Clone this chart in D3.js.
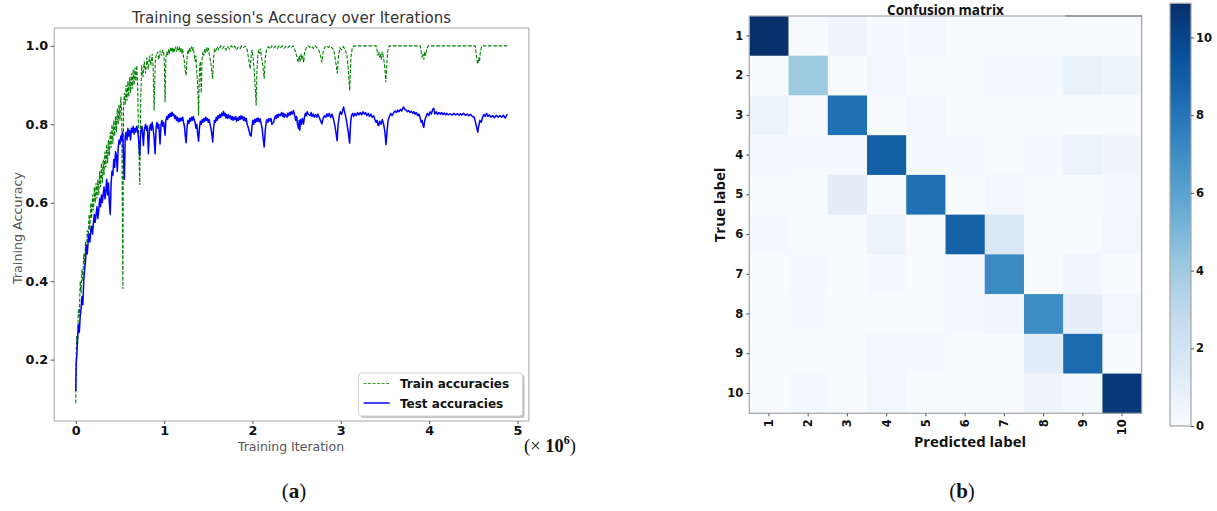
<!DOCTYPE html>
<html>
<head>
<meta charset="utf-8">
<script src="https://cdn.jsdelivr.net/npm/d3@7"></script>
<style>
  body { margin: 0; background: #fff; }
  svg { display: block; }
</style>
</head>
<body>
<svg id="fig" width="1217" height="511"></svg>
<script>
// ---- data: accuracy curves (iteration in millions, accuracy) ----
const trainPoints = [
  [0.000,0.089],[0.005,0.21],[0.010,0.26],[0.020,0.24],[0.030,0.33],[0.040,0.31],[0.050,0.40],[0.060,0.37],
  [0.070,0.43],[0.080,0.40],[0.090,0.47],[0.100,0.44],[0.110,0.50],[0.120,0.47],[0.130,0.53],[0.140,0.50],
  [0.150,0.57],[0.160,0.53],[0.170,0.60],[0.180,0.56],[0.190,0.62],[0.200,0.58],[0.210,0.64],[0.220,0.60],
  [0.230,0.65],[0.240,0.61],[0.250,0.66],[0.260,0.62],[0.270,0.68],[0.280,0.64],[0.290,0.70],[0.300,0.65],
  [0.310,0.71],[0.320,0.67],[0.330,0.73],[0.340,0.69],[0.350,0.75],[0.360,0.70],[0.370,0.76],[0.380,0.72],
  [0.390,0.78],[0.400,0.74],[0.410,0.80],[0.420,0.75],[0.430,0.81],[0.440,0.77],[0.450,0.82],[0.460,0.78],
  [0.470,0.84],[0.480,0.80],[0.490,0.85],[0.500,0.81],[0.510,0.87],[0.520,0.83],[0.527,0.60],[0.533,0.38],
  [0.540,0.84],[0.550,0.88],[0.560,0.85],[0.570,0.90],[0.580,0.86],[0.590,0.91],[0.600,0.87],[0.610,0.92],
  [0.620,0.88],[0.630,0.93],[0.640,0.89],[0.650,0.94],[0.660,0.90],[0.670,0.945],[0.680,0.91],[0.690,0.95],
  [0.700,0.90],[0.712,0.76],[0.724,0.645],[0.735,0.86],[0.745,0.95],[0.760,0.92],[0.775,0.96],[0.790,0.93],
  [0.805,0.97],[0.820,0.94],[0.835,0.975],[0.850,0.95],[0.865,0.98],[0.875,0.95],[0.887,0.835],[0.900,0.96],
  [0.910,0.975],[0.925,0.985],[0.940,0.965],[0.955,0.988],[0.970,0.975],[0.985,0.99],[1.000,0.975],
  [1.011,0.856],[1.02,0.97],[1.03,0.985],[1.04,0.975],[1.05,0.992],[1.06,0.98],[1.07,0.995],[1.08,0.985],
  [1.09,0.997],[1.10,0.982],[1.11,0.995],[1.12,0.988],[1.13,0.998],[1.14,0.985],[1.15,0.996],[1.16,0.99],
  [1.17,0.998],[1.18,0.984],[1.19,0.995],[1.20,0.98],[1.21,0.992],[1.22,0.97],[1.23,0.96],[1.24,0.935],
  [1.249,0.925],[1.26,0.97],[1.27,0.99],[1.28,0.98],[1.29,0.995],[1.30,0.985],[1.31,0.998],[1.32,0.99],
  [1.33,0.996],[1.34,0.98],[1.35,0.96],[1.36,0.975],[1.37,0.93],[1.38,0.90],[1.39,0.822],[1.40,0.94],
  [1.41,0.96],[1.42,0.88],[1.43,0.965],[1.44,0.985],[1.45,0.975],[1.46,0.992],[1.47,0.985],[1.48,0.996],
  [1.49,0.988],[1.50,0.995],[1.51,0.98],[1.52,0.97],[1.53,0.955],[1.54,0.935],[1.55,0.916],[1.56,0.97],
  [1.57,0.99],[1.58,0.985],[1.60,0.998],[1.62,0.99],[1.64,1.0],[1.66,0.993],[1.68,0.999],[1.70,0.99],
  [1.72,0.998],[1.74,0.992],[1.76,1.0],[1.78,0.995],[1.80,0.999],[1.82,0.99],[1.84,0.997],[1.86,0.993],
  [1.88,1.0],[1.90,0.996],[1.92,0.999],[1.94,0.99],[1.955,0.97],[1.965,0.955],[1.974,0.941],[1.985,0.975],
  [1.995,0.99],[2.005,0.975],[2.015,0.95],[2.025,0.92],[2.035,0.88],[2.042,0.848],[2.05,0.93],[2.06,0.975],
  [2.07,0.99],[2.08,0.98],[2.09,0.993],[2.10,0.975],[2.11,0.96],[2.12,0.945],[2.133,0.916],[2.145,0.97],
  [2.16,0.99],[2.18,0.998],[2.20,0.992],[2.22,1.0],[2.24,0.995],[2.26,0.999],[2.28,0.993],[2.30,1.0],
  [2.32,0.996],[2.34,1.0],[2.36,0.994],[2.38,0.999],[2.40,0.995],[2.42,1.0],[2.44,0.996],[2.46,1.0],
  [2.48,0.99],[2.50,0.975],[2.51,0.965],[2.52,0.958],[2.53,0.975],[2.54,0.96],[2.55,0.98],[2.56,0.965],
  [2.57,0.975],[2.58,0.958],[2.59,0.985],[2.61,0.995],[2.63,1.0],[2.65,0.996],[2.67,0.999],[2.69,0.993],
  [2.71,1.0],[2.73,0.995],[2.75,0.99],[2.77,0.975],[2.786,0.958],[2.80,0.985],[2.82,0.997],[2.84,1.0],
  [2.86,0.996],[2.88,1.0],[2.90,0.995],[2.92,0.99],[2.935,0.97],[2.948,0.95],[2.96,0.93],[2.975,0.975],
  [2.99,0.995],[3.01,0.99],[3.03,0.998],[3.05,0.99],[3.07,0.975],[3.085,0.94],[3.10,0.886],[3.115,0.97],
  [3.13,0.995],[3.15,1.0],[3.40,1.0],[3.41,0.99],[3.42,0.975],[3.43,0.985],[3.44,0.97],[3.45,0.98],
  [3.46,0.965],[3.47,0.985],[3.48,0.975],[3.49,0.96],[3.50,0.94],[3.51,0.907],[3.52,0.95],[3.53,0.985],
  [3.54,0.995],[3.55,1.0],[3.90,1.0],[3.91,0.985],[3.92,0.97],[3.93,0.98],[3.94,0.965],[3.95,0.985],
  [3.96,0.975],[3.97,0.99],[3.99,1.0],[4.52,1.0],[4.53,0.985],[4.54,0.965],[4.551,0.953],[4.56,0.97],
  [4.57,0.96],[4.58,0.985],[4.59,0.995],[4.60,1.0],[4.885,1.0]
];

const testPoints = [
  [0.000,0.12],[0.005,0.19],[0.012,0.21],[0.020,0.25],[0.030,0.29],[0.040,0.27],[0.050,0.31],[0.060,0.33],
  [0.070,0.36],[0.080,0.34],[0.090,0.40],[0.100,0.43],[0.110,0.45],[0.120,0.49],[0.130,0.47],[0.140,0.50],
  [0.150,0.52],[0.160,0.50],[0.170,0.53],[0.180,0.54],[0.190,0.52],[0.200,0.55],[0.210,0.57],[0.220,0.55],
  [0.230,0.57],[0.240,0.59],[0.250,0.56],[0.260,0.58],[0.270,0.61],[0.280,0.59],[0.290,0.62],[0.300,0.60],
  [0.310,0.62],[0.320,0.64],[0.330,0.61],[0.340,0.63],[0.350,0.66],[0.360,0.62],[0.370,0.65],[0.380,0.60],
  [0.390,0.57],[0.400,0.65],[0.410,0.68],[0.420,0.67],[0.430,0.71],[0.440,0.69],[0.450,0.73],[0.460,0.72],
  [0.470,0.68],[0.480,0.74],[0.490,0.76],[0.500,0.75],[0.510,0.77],[0.520,0.76],[0.530,0.78],[0.540,0.72],
  [0.550,0.66],[0.560,0.77],[0.570,0.78],[0.580,0.76],[0.590,0.79],[0.600,0.77],[0.610,0.785],[0.620,0.76],
  [0.630,0.79],[0.640,0.78],[0.650,0.795],[0.660,0.775],[0.670,0.79],[0.680,0.78],[0.690,0.795],[0.700,0.785],
  [0.712,0.76],[0.724,0.72],[0.735,0.78],[0.75,0.795],[0.766,0.746],[0.775,0.785],[0.79,0.80],[0.80,0.785],
  [0.81,0.795],[0.822,0.725],[0.835,0.79],[0.845,0.80],[0.855,0.785],[0.865,0.805],[0.875,0.79],[0.885,0.77],
  [0.898,0.725],[0.91,0.795],[0.92,0.805],[0.93,0.79],[0.94,0.80],[0.954,0.75],[0.965,0.80],[0.975,0.81],
  [0.985,0.795],[0.995,0.805],[1.011,0.772],[1.02,0.81],[1.03,0.82],[1.04,0.812],[1.05,0.825],[1.06,0.818],
  [1.07,0.828],[1.08,0.82],[1.09,0.831],[1.10,0.822],[1.11,0.826],[1.12,0.815],[1.13,0.822],[1.14,0.81],
  [1.15,0.818],[1.16,0.806],[1.17,0.815],[1.18,0.808],[1.19,0.816],[1.20,0.81],[1.21,0.818],[1.22,0.805],
  [1.23,0.795],[1.24,0.77],[1.249,0.753],[1.26,0.795],[1.27,0.81],[1.28,0.802],[1.29,0.815],[1.30,0.808],
  [1.31,0.818],[1.32,0.81],[1.33,0.82],[1.34,0.812],[1.35,0.805],[1.36,0.79],[1.37,0.80],[1.38,0.775],
  [1.39,0.757],[1.40,0.79],[1.41,0.808],[1.42,0.80],[1.43,0.812],[1.44,0.805],[1.45,0.815],[1.46,0.808],
  [1.47,0.818],[1.48,0.81],[1.49,0.815],[1.50,0.805],[1.51,0.812],[1.52,0.80],[1.53,0.79],[1.54,0.775],
  [1.55,0.755],[1.56,0.79],[1.57,0.81],[1.58,0.805],[1.59,0.818],[1.60,0.81],[1.61,0.822],[1.62,0.815],
  [1.63,0.825],[1.64,0.818],[1.65,0.828],[1.66,0.822],[1.672,0.833],[1.68,0.822],[1.69,0.828],[1.70,0.816],
  [1.71,0.825],[1.72,0.815],[1.73,0.824],[1.74,0.816],[1.75,0.822],[1.76,0.812],[1.77,0.82],[1.78,0.81],
  [1.79,0.818],[1.80,0.812],[1.81,0.82],[1.82,0.808],[1.83,0.816],[1.84,0.81],[1.85,0.82],[1.86,0.812],
  [1.87,0.822],[1.88,0.814],[1.89,0.82],[1.90,0.81],[1.91,0.818],[1.92,0.808],[1.93,0.815],[1.94,0.80],
  [1.955,0.79],[1.965,0.78],[1.974,0.772],[1.985,0.77],[1.995,0.795],[2.005,0.81],[2.015,0.80],[2.025,0.812],
  [2.035,0.805],[2.045,0.815],[2.055,0.808],[2.065,0.816],[2.075,0.806],[2.087,0.814],[2.10,0.80],[2.11,0.79],
  [2.12,0.765],[2.133,0.742],[2.145,0.785],[2.155,0.805],[2.165,0.812],[2.175,0.805],[2.185,0.815],[2.20,0.808],
  [2.21,0.815],[2.22,0.80],[2.239,0.805],[2.25,0.815],[2.26,0.822],[2.27,0.815],[2.28,0.825],[2.29,0.818],
  [2.30,0.826],[2.314,0.822],[2.33,0.83],[2.34,0.82],[2.35,0.828],[2.36,0.818],[2.37,0.826],[2.39,0.818],
  [2.40,0.828],[2.41,0.822],[2.42,0.83],[2.43,0.824],[2.44,0.832],[2.45,0.826],[2.465,0.835],[2.475,0.825],
  [2.49,0.81],[2.50,0.82],[2.51,0.80],[2.522,0.789],[2.53,0.81],[2.536,0.785],[2.545,0.812],[2.555,0.80],
  [2.565,0.815],[2.578,0.801],[2.59,0.82],[2.60,0.828],[2.61,0.822],[2.62,0.832],[2.635,0.825],[2.654,0.822],
  [2.665,0.83],[2.675,0.82],[2.69,0.826],[2.70,0.818],[2.715,0.825],[2.729,0.818],[2.74,0.826],[2.755,0.818],
  [2.77,0.81],[2.786,0.801],[2.80,0.815],[2.815,0.822],[2.83,0.818],[2.843,0.827],[2.855,0.82],[2.87,0.828],
  [2.885,0.818],[2.90,0.826],[2.915,0.815],[2.93,0.80],[2.945,0.78],[2.958,0.758],[2.97,0.80],[2.985,0.825],
  [2.995,0.832],[3.01,0.825],[3.02,0.835],[3.032,0.844],[3.045,0.83],[3.055,0.82],[3.07,0.801],[3.085,0.78],
  [3.10,0.752],[3.11,0.80],[3.12,0.822],[3.135,0.828],[3.145,0.82],[3.16,0.828],[3.175,0.822],[3.19,0.83],
  [3.205,0.824],[3.22,0.83],[3.235,0.824],[3.25,0.832],[3.265,0.826],[3.28,0.83],[3.295,0.822],[3.31,0.828],
  [3.325,0.82],[3.34,0.826],[3.355,0.818],[3.372,0.822],[3.385,0.812],[3.40,0.805],[3.41,0.81],[3.42,0.798],
  [3.429,0.797],[3.44,0.808],[3.455,0.80],[3.47,0.812],[3.485,0.80],[3.50,0.78],[3.511,0.748],[3.523,0.78],
  [3.535,0.81],[3.55,0.82],[3.565,0.828],[3.58,0.822],[3.599,0.83],[3.615,0.834],[3.63,0.83],[3.645,0.836],
  [3.66,0.832],[3.675,0.838],[3.69,0.834],[3.70,0.84],[3.712,0.844],[3.725,0.838],[3.74,0.836],[3.755,0.832],
  [3.77,0.835],[3.785,0.83],[3.80,0.833],[3.815,0.828],[3.826,0.832],[3.84,0.826],[3.855,0.83],[3.87,0.822],
  [3.885,0.826],[3.90,0.815],[3.91,0.805],[3.92,0.81],[3.931,0.797],[3.94,0.792],[3.95,0.81],[3.965,0.82],
  [3.98,0.828],[3.995,0.822],[4.01,0.832],[4.025,0.826],[4.04,0.838],[4.052,0.841],[4.065,0.826],[4.08,0.832],
  [4.095,0.825],[4.11,0.83],[4.127,0.826],[4.14,0.83],[4.155,0.825],[4.17,0.829],[4.185,0.824],[4.20,0.828],
  [4.215,0.824],[4.24,0.827],[4.26,0.823],[4.28,0.828],[4.30,0.824],[4.32,0.827],[4.34,0.823],[4.354,0.827],
  [4.37,0.824],[4.39,0.828],[4.41,0.823],[4.43,0.826],[4.45,0.822],[4.47,0.825],[4.49,0.82],[4.51,0.818],
  [4.525,0.805],[4.54,0.79],[4.551,0.78],[4.56,0.795],[4.575,0.81],[4.59,0.805],[4.605,0.818],[4.62,0.825],
  [4.635,0.82],[4.65,0.828],[4.665,0.82],[4.68,0.824],[4.70,0.818],[4.72,0.822],[4.74,0.817],[4.76,0.823],
  [4.78,0.818],[4.80,0.822],[4.82,0.818],[4.84,0.823],[4.86,0.816],[4.885,0.826]
];

const accTicks = [0.2, 0.4, 0.6, 0.8, 1.0];
const iterTicks = [0, 1, 2, 3, 4, 5];
const seriesNames = ["Train accuracies", "Test accuracies"];

// ---- data: confusion matrix ----
const classLabels = ["1", "2", "3", "4", "5", "6", "7", "8", "9", "10"];
const confusion = [
  [10.88, 0, 0.5, 0.1, 0.25, 0, 0, 0, 0, 0],
  [0, 4.1, 0, 0.3, 0, 0, 0.15, 0.15, 0.8, 0.6],
  [0.6, 0, 8.2, 0, 0.3, 0, 0, 0, 0, 0],
  [0.15, 0.1, 0.15, 8.9, 0.15, 0.15, 0, 0.15, 0.7, 0.5],
  [0, 0, 1.1, 0, 8.2, 0, 0.3, 0, 0, 0.15],
  [0.2, 0, 0, 0.65, 0, 8.8, 1.6, 0, 0, 0.3],
  [0, 0.15, 0, 0.2, 0, 0.15, 7.1, 0, 0.4, 0],
  [0, 0.1, 0, 0, 0, 0.15, 0.45, 7.0, 1.0, 0.3],
  [0, 0, 0, 0.25, 0.15, 0, 0, 1.2, 8.5, 0],
  [0, 0.15, 0, 0.3, 0, 0, 0, 0.5, 0.15, 10.5]
];
const colorbarTicks = [0, 2, 4, 6, 8, 10];
const colorMax = 10.88;

const svg = d3.select("#fig");
svg.append("rect").attr("width", 1217).attr("height", 511).attr("fill", "#fff");

const frameColor = "#a6a6a6";

// ================= (a) accuracy chart =================
(() => {
  const left = 54.2, right = 528.9, top = 28, bottom = 421;
  const allX = trainPoints.concat(testPoints).map(d => d[0]);
  const allY = trainPoints.concat(testPoints).map(d => d[1]);
  const [x0, x1] = d3.extent(allX), [y0, y1] = d3.extent(allY);
  const px = (x1 - x0) * 0.05, py = (y1 - y0) * 0.05;

  const x = d3.scaleLinear().domain([x0 - px, x1 + px]).range([left, right]);
  const y = d3.scaleLinear().domain([y0 - py, y1 + py]).range([bottom, top]);

  const g = svg.append("g");
  const line = d3.line().x(d => x(d[0])).y(d => y(d[1]));

  g.append("path")
    .datum(trainPoints)
    .attr("d", line)
    .attr("fill", "none")
    .attr("stroke", "#008000")
    .attr("stroke-width", 1.1)
    .attr("stroke-dasharray", "3.7,1.6");

  g.append("path")
    .datum(testPoints)
    .attr("d", line)
    .attr("fill", "none")
    .attr("stroke", "#0000ff")
    .attr("stroke-width", 1.5)
    .attr("stroke-linejoin", "round");

  g.append("rect")
    .attr("x", left).attr("y", top)
    .attr("width", right - left).attr("height", bottom - top)
    .attr("fill", "none").attr("stroke", frameColor);

  const xAxis = g.append("g")
    .attr("transform", `translate(0,${bottom})`)
    .call(d3.axisBottom(x).tickValues(iterTicks).tickFormat(d3.format("d")).tickSize(3).tickPadding(2));
  const yAxis = g.append("g")
    .attr("transform", `translate(${left},0)`)
    .call(d3.axisLeft(y).tickValues(accTicks).tickFormat(d3.format(".1f")).tickSize(3.5).tickPadding(2.5));
  [xAxis, yAxis].forEach(a => {
    a.select(".domain").remove();
    a.selectAll(".tick line").attr("stroke", "#555");
    a.selectAll(".tick text")
      .attr("font-family", "DejaVu Sans")
      .attr("font-weight", "bold")
      .attr("font-size", 12.8)
      .attr("fill", "#111");
  });

  g.append("text")
    .attr("x", (left + right) / 2).attr("y", 22.5)
    .attr("text-anchor", "middle")
    .attr("font-family", "DejaVu Sans").attr("font-size", 15).attr("fill", "#333")
    .text("Training session's Accuracy over Iterations");

  g.append("text")
    .attr("x", 291).attr("y", 451)
    .attr("text-anchor", "middle")
    .attr("font-family", "DejaVu Sans").attr("font-size", 12.5).attr("fill", "#555")
    .text("Training Iteration");

  g.append("text")
    .attr("transform", "translate(22,228) rotate(-90)")
    .attr("text-anchor", "middle")
    .attr("font-family", "DejaVu Sans").attr("font-size", 12.7).attr("fill", "#555")
    .text("Training Accuracy");

  // multiplier (×10^6)
  const mult = g.append("text")
    .attr("x", 524).attr("y", 452)
    .attr("font-family", "Liberation Serif").attr("font-size", 18.5).attr("fill", "#111");
  mult.append("tspan").text("(× ");
  mult.append("tspan").attr("font-weight", "bold").text("10");
  mult.append("tspan").attr("font-size", 12).attr("dy", -8).attr("font-weight", "bold").text("6");
  mult.append("tspan").attr("dy", 8).text(")");

  // legend
  const lg = g.append("g").attr("transform", "translate(358.6,373)");
  lg.append("rect").attr("x", 2).attr("y", 2).attr("width", 164).attr("height", 43)
    .attr("rx", 3).attr("fill", "#888").attr("opacity", 0.5);
  lg.append("rect").attr("width", 164).attr("height", 43).attr("rx", 3)
    .attr("fill", "#fff").attr("stroke", "#d0d0d0");
  const styles = [
    { stroke: "#2ca02c", dash: "3,1.5", width: 1.2 },
    { stroke: "#4040ff", dash: null, width: 2 }
  ];
  seriesNames.forEach((name, i) => {
    const yy = 10.5 + i * 19.5;
    lg.append("line").attr("x1", 5).attr("x2", 31).attr("y1", yy).attr("y2", yy)
      .attr("stroke", styles[i].stroke).attr("stroke-width", styles[i].width)
      .attr("stroke-dasharray", styles[i].dash);
    lg.append("text").attr("x", 41.4).attr("y", yy + 4.5)
      .attr("font-family", "DejaVu Sans").attr("font-weight", "bold")
      .attr("font-size", 12).attr("fill", "#111").text(name);
  });

  svg.append("text")
    .attr("x", 294).attr("y", 498).attr("text-anchor", "middle")
    .attr("font-family", "Liberation Serif").attr("font-size", 21).attr("fill", "#111")
    .html('(<tspan font-weight="bold">a</tspan>)');
})();

// ================= (b) confusion matrix =================
(() => {
  const left = 749.3, right = 1141.7, top = 16, bottom = 413.3;
  const x = d3.scaleBand().domain(classLabels).range([left, right]);
  const y = d3.scaleBand().domain(classLabels).range([top, bottom]);

  const blues = d3.schemeBlues[9];
  const color = d3.scaleLinear()
    .domain(d3.range(blues.length).map(i => i / (blues.length - 1) * colorMax))
    .range(blues)
    .clamp(true);

  const cells = [];
  confusion.forEach((row, r) => row.forEach((v, c) => cells.push({ r, c, v })));

  const g = svg.append("g");
  g.selectAll("rect.cell")
    .data(cells)
    .join("rect")
    .attr("class", "cell")
    .attr("x", d => x(classLabels[d.c]))
    .attr("y", d => y(classLabels[d.r]))
    .attr("width", x.bandwidth() + 0.3)
    .attr("height", y.bandwidth() + 0.3)
    .attr("fill", d => color(d.v));

  g.append("rect")
    .attr("x", left).attr("y", top).attr("width", right - left).attr("height", bottom - top)
    .attr("fill", "none").attr("stroke", frameColor).attr("stroke-width", 1.2);
  g.append("line")
    .attr("x1", x("9") + 2).attr("x2", right).attr("y1", top).attr("y2", top)
    .attr("stroke", "#777").attr("stroke-width", 1.2);

  const yAxis = g.append("g").attr("transform", `translate(${left},0)`)
    .call(d3.axisLeft(y).tickSize(3).tickPadding(3));
  const xAxis = g.append("g").attr("transform", `translate(0,${bottom})`)
    .call(d3.axisBottom(x).tickSize(3).tickPadding(3));
  [xAxis, yAxis].forEach(a => {
    a.select(".domain").remove();
    a.selectAll(".tick line").attr("stroke", "#555");
    a.selectAll(".tick text")
      .attr("font-family", "DejaVu Sans").attr("font-weight", "bold")
      .attr("font-size", 11.5).attr("fill", "#111");
  });
  xAxis.selectAll(".tick text")
    .attr("transform", "rotate(-90)")
    .attr("text-anchor", "end")
    .attr("x", -6).attr("y", 0).attr("dy", "0.35em");

  g.append("text")
    .attr("x", (left + right) / 2).attr("y", 14.5).attr("text-anchor", "middle")
    .attr("font-family", "Open Sans").attr("font-weight", "bold").attr("font-size", 13.5).attr("fill", "#111")
    .text("Confusion matrix");
  g.append("text")
    .attr("x", 970).attr("y", 447).attr("text-anchor", "middle")
    .attr("font-family", "Open Sans").attr("font-weight", "bold").attr("font-size", 15).attr("fill", "#111")
    .text("Predicted label");
  g.append("text")
    .attr("transform", "translate(725,205) rotate(-90)")
    .attr("text-anchor", "middle")
    .attr("font-family", "Open Sans").attr("font-weight", "bold").attr("font-size", 15).attr("fill", "#111")
    .text("True label");

  // colorbar
  const cbLeft = 1170, cbRight = 1191, cbTop = 3.3, cbBottom = 426;
  const cbScale = d3.scaleLinear().domain([0, colorMax]).range([cbBottom, cbTop]);
  const defs = svg.append("defs");
  const grad = defs.append("linearGradient").attr("id", "cbGrad")
    .attr("x1", 0).attr("y1", 1).attr("x2", 0).attr("y2", 0);
  blues.forEach((c, i) => {
    grad.append("stop").attr("offset", i / (blues.length - 1)).attr("stop-color", c);
  });
  g.append("rect")
    .attr("x", cbLeft).attr("y", cbTop).attr("width", cbRight - cbLeft).attr("height", cbBottom - cbTop)
    .attr("fill", "url(#cbGrad)").attr("stroke", frameColor).attr("stroke-width", 1.2);
  const cbAxis = g.append("g").attr("transform", `translate(${cbRight},0)`)
    .call(d3.axisRight(cbScale).tickValues(colorbarTicks).tickSize(3).tickPadding(2));
  cbAxis.select(".domain").remove();
  cbAxis.selectAll(".tick line").attr("stroke", "#555");
  cbAxis.selectAll(".tick text")
    .attr("font-family", "DejaVu Sans").attr("font-weight", "bold")
    .attr("font-size", 11.5).attr("fill", "#111");

  svg.append("text")
    .attr("x", 962).attr("y", 498).attr("text-anchor", "middle")
    .attr("font-family", "Liberation Serif").attr("font-size", 21).attr("fill", "#111")
    .html('(<tspan font-weight="bold">b</tspan>)');
})();
</script>
</body>
</html>
